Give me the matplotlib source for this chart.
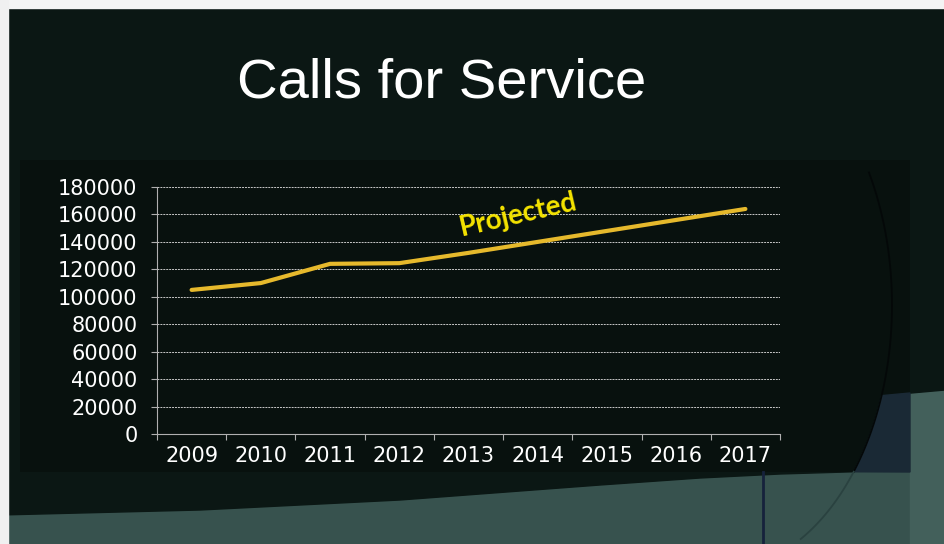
import numpy as np
import matplotlib
matplotlib.use("Agg")
from matplotlib import pyplot as plt
from matplotlib.patches import Rectangle, Polygon

# calls for service per year (2013 onward are projections)
years = ["2009", "2010", "2011", "2012", "2013", "2014", "2015", "2016", "2017"]
calls = [105000, 110000, 124000, 124500, 132000, 140000, 148000, 156000, 164000]
y_ticks = [0, 20000, 40000, 60000, 80000, 100000, 120000, 140000, 160000, 180000]

W, H = 945, 544
fig = plt.figure(figsize=(W / 100, H / 100), dpi=100)


def swoosh(deg_from, deg_to, n=40):
    # points on the curved edge of the dark swoosh, in pixels
    t = np.radians(np.linspace(deg_from, deg_to, n))
    return 720 + 172 * np.cos(t), 305 + 265 * np.sin(t)


# slide background, drawn in pixel coordinates
bg = fig.add_axes([0, 0, 1, 1])
bg.set_xlim(0, W)
bg.set_ylim(H, 0)
bg.axis("off")
bg.add_patch(Rectangle((0, 0), W, H, color="#37524e", zorder=0))
bg.add_patch(Rectangle((910, 390), 35, H - 390, color="#43605b", zorder=0.5))

arc_x, arc_y = swoosh(20, 39, 20)
arc_pts = list(zip(arc_x, arc_y))
edge = [(0, 0), (W, 0), (W, 390)] + arc_pts
edge += [(780, 474), (700, 478), (600, 485), (400, 500), (200, 510), (0, 515)]
bg.add_patch(Polygon(edge, closed=True, color="#0b1714", zorder=1))

# chart area: faint dark box, bluish where it sits over the teal
bg.add_patch(Rectangle((20, 160), 890, 312, color="#000000", alpha=0.25,
                       lw=0, zorder=2))
navy = arc_pts + [(910, 472), (910, 393)]
bg.add_patch(Polygon(navy, closed=True, color="#1a2935", zorder=2))

ex, ey = swoosh(-30, 39)
bg.plot(ex, ey, color="#040808", lw=1.3, zorder=3)
ex, ey = swoosh(39, 62)
bg.plot(ex, ey, color="#2a4240", lw=1.3, zorder=3)
bg.plot([763, 763], [472, H], color="#16223c", lw=2, zorder=3)

bg.add_patch(Rectangle((0, 0), W, 8, color="#f4f4f4", zorder=5))
bg.add_patch(Rectangle((0, 0), 8, H, color="#f0f0f0", zorder=5))

bg.text(442, 98, "Calls for Service", color="white", fontsize=40.5,
        family="Liberation Sans", ha="center", va="baseline", zorder=6)

# line chart
ax = fig.add_axes([157 / W, 1 - 434 / H, 623 / W, 247 / H])
ax.set_facecolor("none")
xs = [i + 0.5 for i in range(len(years))]
ax.plot(xs, calls, color="#e6b92c", lw=3, solid_capstyle="round",
        solid_joinstyle="round", zorder=3)

ax.set_xlim(0, len(years))
ax.set_ylim(0, 180000)
ax.set_xticks(range(len(years) + 1))
ax.set_xticklabels([])
ax.set_xticks(xs, minor=True)
ax.set_xticklabels(years, minor=True)
ax.set_yticks(y_ticks)
ax.set_yticklabels([str(v) for v in y_ticks])

ax.grid(axis="y", color="#c8c8c8", lw=0.7, linestyle=(0, (2, 1)))
ax.tick_params(axis="x", which="major", direction="out", length=4,
               color="#b0b0b0", width=0.8)
ax.tick_params(axis="x", which="minor", length=0, pad=9,
               labelsize=15, labelcolor="white")
ax.tick_params(axis="y", direction="out", length=4, color="#b0b0b0",
               width=0.8, pad=10, labelsize=15, labelcolor="white")
for lab in ax.get_xticklabels(minor=True) + ax.get_yticklabels():
    lab.set_family("DejaVu Sans")

for side in ["top", "right"]:
    ax.spines[side].set_visible(False)
for side in ["left", "bottom"]:
    ax.spines[side].set_color("#b0b0b0")
    ax.spines[side].set_linewidth(0.8)

ax.text(5.22, 159500, "Projected", color="#f5e400", fontsize=20,
        fontweight="bold", family="Lato", rotation=13,
        ha="center", va="center", rotation_mode="anchor", zorder=4)

fig.savefig("out.png", dpi=100, facecolor=fig.get_facecolor())
